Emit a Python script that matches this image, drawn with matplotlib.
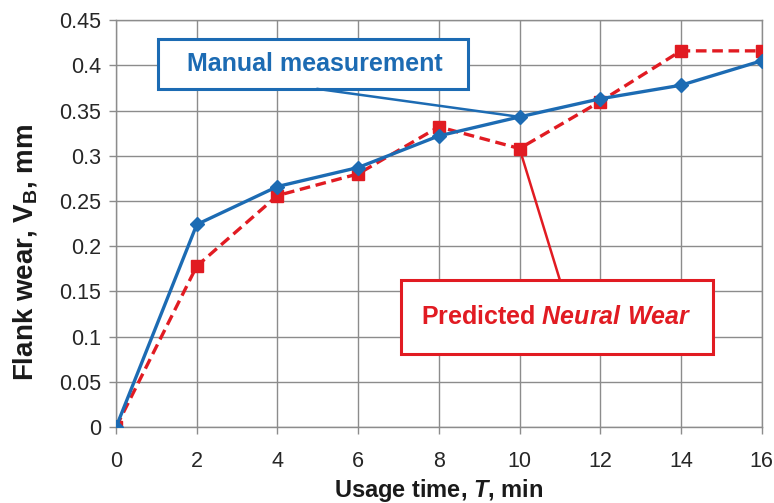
import numpy as np
import matplotlib
matplotlib.use('Agg')
import matplotlib.pyplot as plt
from matplotlib.patches import Rectangle

# Usage time (min) and flank wear VB (mm)
usage_time = [0, 2, 4, 6, 8, 10, 12, 14, 16]
manual_wear = [0.0, 0.224, 0.266, 0.287, 0.322, 0.343, 0.363, 0.378, 0.405]
predicted_wear = [0.0, 0.178, 0.256, 0.280, 0.332, 0.308, 0.360, 0.416, 0.416]

x_ticks = [0, 2, 4, 6, 8, 10, 12, 14, 16]
y_ticks = [0, 0.05, 0.1, 0.15, 0.2, 0.25, 0.3, 0.35, 0.4, 0.45]
y_tick_labels = ['0', '0.05', '0.1', '0.15', '0.2', '0.25', '0.3', '0.35', '0.4', '0.45']

blue = '#1c6bb3'
red = '#e11b22'
grey = '#8c8c8c'

plt.rcParams['font.family'] = ['Liberation Sans', 'DejaVu Sans']
plt.rcParams['mathtext.fontset'] = 'custom'
plt.rcParams['mathtext.rm'] = 'Liberation Sans:bold'
plt.rcParams['mathtext.bf'] = 'Liberation Sans:bold'
plt.rcParams['mathtext.it'] = 'Liberation Sans:bold:italic'

fig = plt.figure(figsize=(7.74, 5.03), dpi=100)
ax = fig.add_axes([0.150, 0.151, 0.834, 0.809])

ax.plot(usage_time, manual_wear, color=blue, lw=2.4, marker='D', ms=7,
        mec=blue, mfc=blue, zorder=4)
ax.plot(usage_time, predicted_wear, color=red, lw=2.4, ls=(0, (3.2, 1.7)),
        marker='s', ms=8.5, mec=red, mfc=red, zorder=3)

ax.set_xlim(0, 16)
ax.set_ylim(0, 0.45)
ax.set_xticks(x_ticks)
ax.set_yticks(y_ticks)
ax.set_yticklabels(y_tick_labels)
ax.grid(True, color=grey, lw=1.0)
ax.set_axisbelow(True)
for s in ax.spines.values():
    s.set_color(grey)
    s.set_linewidth(1.0)
ax.tick_params(colors=grey, labelcolor='#262626', labelsize=15.5, length=5, width=1.0)
ax.tick_params(axis='x', pad=12.5)
ax.tick_params(axis='y', pad=6)

ax.set_xlabel('Usage time, $T$, min', fontsize=17, fontweight='bold', color='#1a1a1a')
ax.set_ylabel(r'Flank wear, $\mathrm{V}_{\mathrm{B}}$, mm', fontsize=20, fontweight='bold', color='#1a1a1a')
ax.xaxis.label.set_va('baseline')
ax.yaxis.label.set_va('baseline')
ax.xaxis.set_label_coords(0.5, -0.172)
ax.yaxis.set_label_coords(-0.13, 0.43)

# callout boxes with leader lines
ax.add_patch(Rectangle((1.04, 0.374), 7.68, 0.055, fc='white', ec=blue, lw=2.2, zorder=5))
ax.text(4.93, 0.4015, 'Manual measurement', ha='center', va='center', fontsize=18,
        fontweight='bold', color=blue, zorder=6)
ax.annotate('', xy=(usage_time[5], manual_wear[5]), xytext=(4.98, 0.374),
            arrowprops=dict(arrowstyle='-', color=blue, lw=1.8, shrinkA=0, shrinkB=0),
            zorder=5)

ax.add_patch(Rectangle((7.06, 0.081), 7.73, 0.0815, fc='white', ec=red, lw=2.2, zorder=5))
ax.text(10.92, 0.122, 'Predicted $Neural\\ Wear$', ha='center', va='center', fontsize=18,
        fontweight='bold', color=red, zorder=6)
ax.annotate('', xy=(usage_time[5], predicted_wear[5]), xytext=(11.0, 0.1625),
            arrowprops=dict(arrowstyle='-', color=red, lw=1.8, shrinkA=0, shrinkB=0),
            zorder=5)

fig.savefig('out.png', dpi=100)
